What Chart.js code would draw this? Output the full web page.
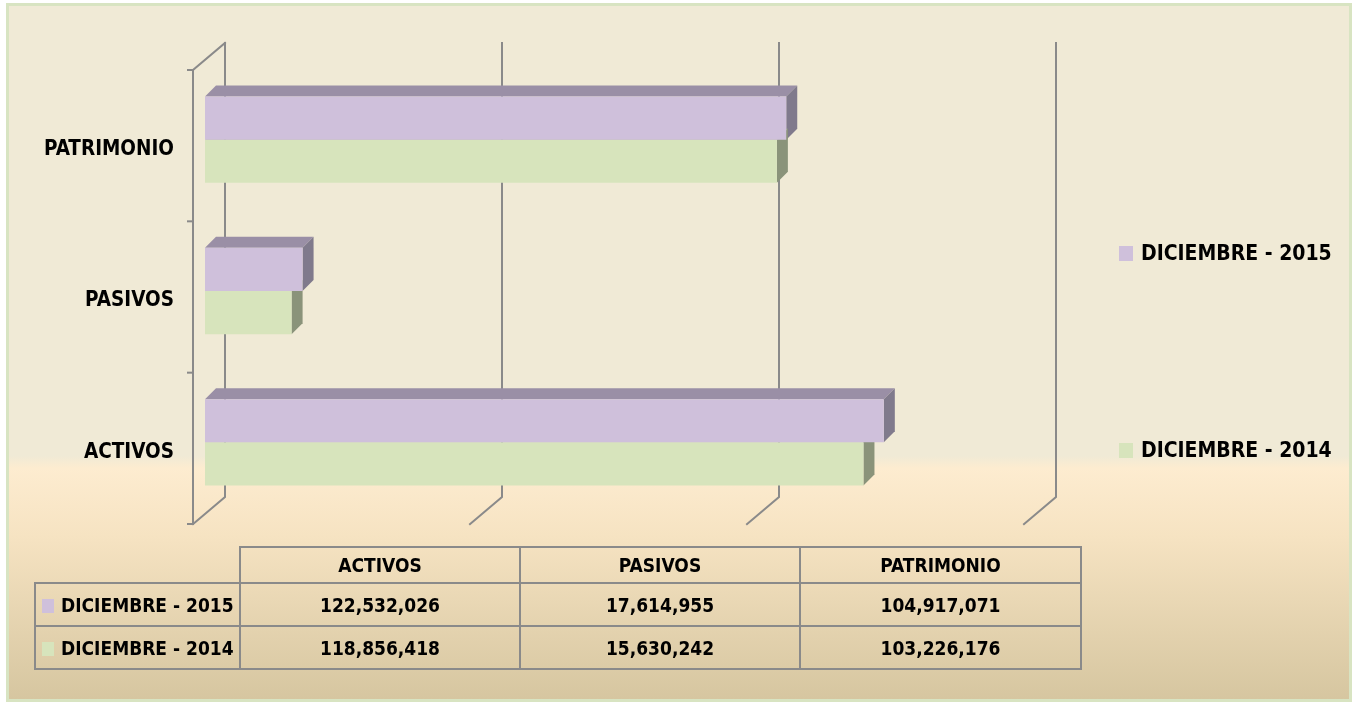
<!DOCTYPE html>
<html>
<head>
<meta charset="utf-8">
<script src="https://cdn.jsdelivr.net/npm/chart.js@4/dist/chart.umd.min.js"></script>
<style>
  html, body { margin: 0; padding: 0; background: #ffffff; }
  body { width: 1352px; height: 702px; position: relative; overflow: hidden;
         font-family: "Liberation Sans Narrow", "Arial Narrow", "DejaVu Sans Condensed", sans-serif; }
  #frame { position: absolute; left: 6px; top: 3px; width: 1340px; height: 693px;
           border: 3px solid #d8e4c2;
           background: linear-gradient(to bottom, #f0ead6 0px, #f0ead6 450px, #fdecd0 462px, #f6e3c2 530px, #d6c6a0 693px); }
  #c { position: absolute; left: 0; top: 0; }
  #legend { position: absolute; left: 0; top: 0; }
  .lg { position: absolute; left: 1119px; font-weight: bold; font-size: 21px; color: #000; white-space: nowrap; line-height: 30px; }
  .lg i { display: inline-block; width: 14px; height: 15px; margin-right: 8px; vertical-align: -1px; }
  #tbl { position: absolute; left: 34px; top: 546px; border-collapse: collapse; table-layout: fixed; width: 1046px; }
  #tbl td, #tbl th { border: 2px solid #8a8a8a; font-weight: bold; font-size: 19px; color: #000; padding: 0; overflow: hidden; }
  #tbl th { height: 34px; text-align: center; }
  #tbl td { height: 41px; text-align: center; }
  #tbl td.rh { text-align: left; white-space: nowrap; }
  #tbl td.rh i { display: inline-block; width: 12px; height: 14px; margin: 0 7px 0 6px; vertical-align: -1px; }
  #tbl th.corner { border-top: hidden; border-left: hidden; }
</style>
</head>
<body>
<div id="frame"></div>
<canvas id="c" width="1352" height="702"></canvas>
<div id="legend"></div>
<table id="tbl"><colgroup><col style="width:205px"><col style="width:280px"><col style="width:280px"><col style="width:281px"></colgroup><tbody id="tb"></tbody></table>
<script>
// ---- data ----
const categories = ['ACTIVOS', 'PASIVOS', 'PATRIMONIO'];
const seriesNames = ['DICIEMBRE - 2015', 'DICIEMBRE - 2014'];
const values2015 = [122532026, 17614955, 104917071];
const values2014 = [118856418, 15630242, 103226176];
const xTickValues = [0, 50000000, 100000000, 150000000];

// ---- styles ----
const FONT = '"Liberation Sans Narrow", "Arial Narrow", "DejaVu Sans Condensed", sans-serif';
const colors = [
  { front: '#cfc0db', top: '#9a8fa6', side: '#807a8c' },
  { front: '#d7e4bc', top: '#a6b08f', side: '#8a937a' }
];
const DEPTH = { dx: 11, dy: -11 };      // bar depth
const BACK = { dx: 20, dy: -21 };       // back wall offset from bar plane
const FRONT = { dx: -12, dy: 6 };       // front plane offset from bar plane
const GRID_COLOR = '#8a8a8a';

// chart draws top category first -> reverse order
const chartLabels = categories.slice().reverse();
const seriesValues = [values2015, values2014];

const threeD = {
  id: 'threeD',
  beforeDatasetsDraw(chart) {
    const ctx = chart.ctx;
    const xs = chart.scales.x;
    const ca = chart.chartArea;
    ctx.save();
    ctx.strokeStyle = GRID_COLOR;
    ctx.lineWidth = 2;
    ctx.lineCap = 'square';
    // back wall vertical lines + floor diagonals
    xTickValues.forEach(v => {
      const px = xs.getPixelForValue(v);
      ctx.beginPath();
      ctx.moveTo(px + BACK.dx, ca.top + BACK.dy);
      ctx.lineTo(px + BACK.dx, ca.bottom + BACK.dy);
      ctx.lineTo(px + FRONT.dx, ca.bottom + FRONT.dy);
      ctx.stroke();
    });
    // left wall front edge + top diagonal
    const p0 = xs.getPixelForValue(xTickValues[0]);
    ctx.beginPath();
    ctx.moveTo(p0 + BACK.dx, ca.top + BACK.dy);
    ctx.lineTo(p0 + FRONT.dx, ca.top + FRONT.dy);
    ctx.lineTo(p0 + FRONT.dx, ca.bottom + FRONT.dy);
    ctx.stroke();
    // tick marks on front axis at category boundaries
    const n = chartLabels.length;
    const step = (ca.bottom - ca.top) / n;
    ctx.lineCap = 'butt';
    for (let i = 0; i <= n; i++) {
      const y = ca.top + i * step + FRONT.dy;
      ctx.beginPath();
      ctx.moveTo(p0 + FRONT.dx - 6, y);
      ctx.lineTo(p0 + FRONT.dx, y);
      ctx.stroke();
    }
    // bar top and side faces
    chart.data.datasets.forEach((ds, di) => {
      const meta = chart.getDatasetMeta(di);
      meta.data.forEach(el => {
        const t = el.y - el.height / 2, b = el.y + el.height / 2;
        const x0 = el.base, x1 = el.x;
        ctx.fillStyle = ds.topColor;
        ctx.beginPath();
        ctx.moveTo(x0, t);
        ctx.lineTo(x0 + DEPTH.dx, t + DEPTH.dy);
        ctx.lineTo(x1 + DEPTH.dx, t + DEPTH.dy);
        ctx.lineTo(x1, t);
        ctx.closePath();
        ctx.fill();
        ctx.fillStyle = ds.sideColor;
        ctx.beginPath();
        ctx.moveTo(x1, t);
        ctx.lineTo(x1 + DEPTH.dx, t + DEPTH.dy);
        ctx.lineTo(x1 + DEPTH.dx, b + DEPTH.dy);
        ctx.lineTo(x1, b);
        ctx.closePath();
        ctx.fill();
      });
    });
    ctx.restore();
  }
};

const chart = new Chart(document.getElementById('c'), {
  type: 'bar',
  data: {
    labels: chartLabels,
    datasets: seriesNames.map((name, i) => ({
      label: name,
      data: seriesValues[i].slice().reverse(),
      backgroundColor: colors[i].front,
      topColor: colors[i].top,
      sideColor: colors[i].side,
      borderWidth: 0,
      categoryPercentage: 0.57,
      barPercentage: 1.0
    }))
  },
  options: {
    indexAxis: 'y',
    responsive: false,
    animation: false,
    events: [],
    layout: { padding: { left: 0, top: 64, right: 316, bottom: 184 } },
    plugins: { legend: { display: false }, tooltip: { enabled: false } },
    scales: {
      x: {
        display: false,
        min: xTickValues[0],
        max: xTickValues[xTickValues.length - 1],
        ticks: { stepSize: xTickValues[1] - xTickValues[0] }
      },
      y: {
        grid: { display: false, drawTicks: false },
        border: { display: false },
        afterFit(scale) { scale.width = 205; },
        ticks: {
          padding: 31,
          labelOffset: 10,
          color: '#000000',
          font: { family: FONT, size: 20.5, weight: 'bold' }
        }
      }
    }
  },
  plugins: [threeD]
});

// ---- legend (HTML) ----
const legendTops = [238, 435];
const legendEl = document.getElementById('legend');
chart.data.datasets.forEach((ds, i) => {
  const d = document.createElement('div');
  d.className = 'lg';
  d.style.top = legendTops[i] + 'px';
  d.innerHTML = '<i style="background:' + ds.backgroundColor + '"></i>' + ds.label;
  legendEl.appendChild(d);
});

// ---- data table (HTML) ----
const fmt = v => v.toLocaleString('en-US');
const tb = document.getElementById('tb');
let html = '<tr><th class="corner"></th>' + categories.map(c => '<th>' + c + '</th>').join('') + '</tr>';
seriesNames.forEach((name, i) => {
  html += '<tr><td class="rh"><i style="background:' + colors[i].front + '"></i>' + name + '</td>' +
    seriesValues[i].map(v => '<td>' + fmt(v) + '</td>').join('') + '</tr>';
});
tb.innerHTML = html;
</script>
</body>
</html>
